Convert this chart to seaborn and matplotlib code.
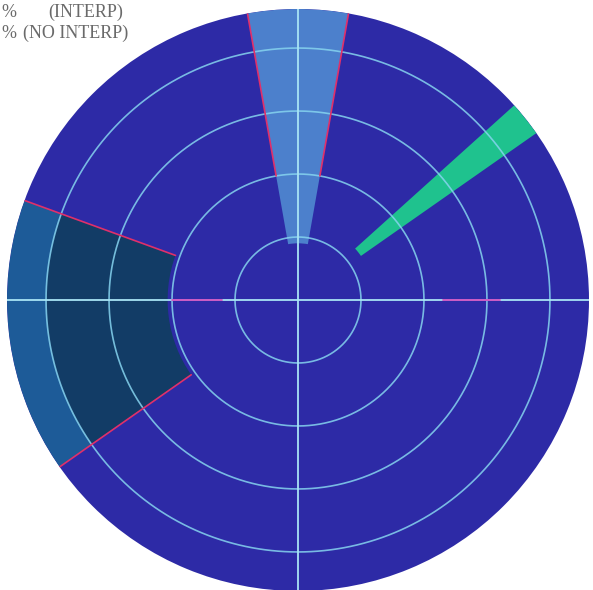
import numpy as np
import matplotlib
matplotlib.use('Agg')
import matplotlib.pyplot as plt
import seaborn as sns

sns.set_style('white')

# rings and display range (radar range units)
ring_radii = [1, 2, 3, 4]
r_max = 4.62

# shaded sectors: start angle, end angle (deg, math convention), inner, outer radius
sector_names = ['interp_top', 'nointerp_inner', 'nointerp_outer', 'target']
sector_start = [80, 160, 160, 35]
sector_end = [100, 215, 215, 42]
sector_inner = [0.9, 2.07, 4.0, 1.22]
sector_outer = [4.62, 4.0, 4.62, 4.62]
sector_colors = ['#4c80cc', '#123c66', '#1d5b98', '#1fc28e']

# red edge lines: angle, from radius
edge_angles = [80, 100, 160, 215]
edge_start = [2.0, 2.0, 2.07, 2.07]

legend_labels = ['(INTERP)', '(NO INTERP)']

disc_color = '#2d2aa6'
ring_color = '#86d4ef'

fig = plt.figure(figsize=(5.93, 5.90), dpi=100)
ax = fig.add_axes([7 / 593, -1 / 590, 582 / 593, 582 / 590], projection='polar')
ax.set_facecolor(disc_color)
fig.patch.set_facecolor('white')

# sectors
for s, e, r0, r1, c in zip(sector_start, sector_end, sector_inner, sector_outer, sector_colors):
    ax.bar(np.deg2rad((s + e) / 2), r1 - r0, width=np.deg2rad(e - s), bottom=r0,
           color=c, edgecolor='none', zorder=1)

# range rings
theta = np.linspace(0, 2 * np.pi, 721)
for r in ring_radii:
    sns.lineplot(x=theta, y=np.full_like(theta, r), ax=ax, sort=False,
                 color=ring_color, lw=1.2, alpha=0.85, zorder=3)

# crosshair
for a in [0, 90, 180, 270]:
    ax.plot([np.deg2rad(a)] * 2, [0, r_max], color='#a8e4f4', lw=1.3, zorder=4)

# magenta segments on the horizontal axis
ax.plot([np.pi] * 2, [1.2, 2.0], color='#d050c0', lw=1.3, zorder=5)
ax.plot([0] * 2, [2.3, 3.2], color='#d050c0', lw=1.3, zorder=5)

# red sector edges
for a, r0 in zip(edge_angles, edge_start):
    ax.plot([np.deg2rad(a)] * 2, [r0, r_max], color='#e0306a', lw=1.2, zorder=5)

ax.set_ylim(0, r_max)
ax.set_xticks([])
ax.set_yticks([])
ax.grid(False)
ax.spines['polar'].set_visible(False)

# legend text in the top-left corner
for y, lab, x in zip([0.972, 0.935], legend_labels, [48, 23]):
    fig.text(1 / 593, y, '%', family='Liberation Serif', fontsize=13,
             color='#6a6a6a', va='baseline')
    fig.text(x / 593, y, lab, family='Liberation Serif', fontsize=13,
             color='#6a6a6a', va='baseline')

fig.savefig('out.png', dpi=100)
